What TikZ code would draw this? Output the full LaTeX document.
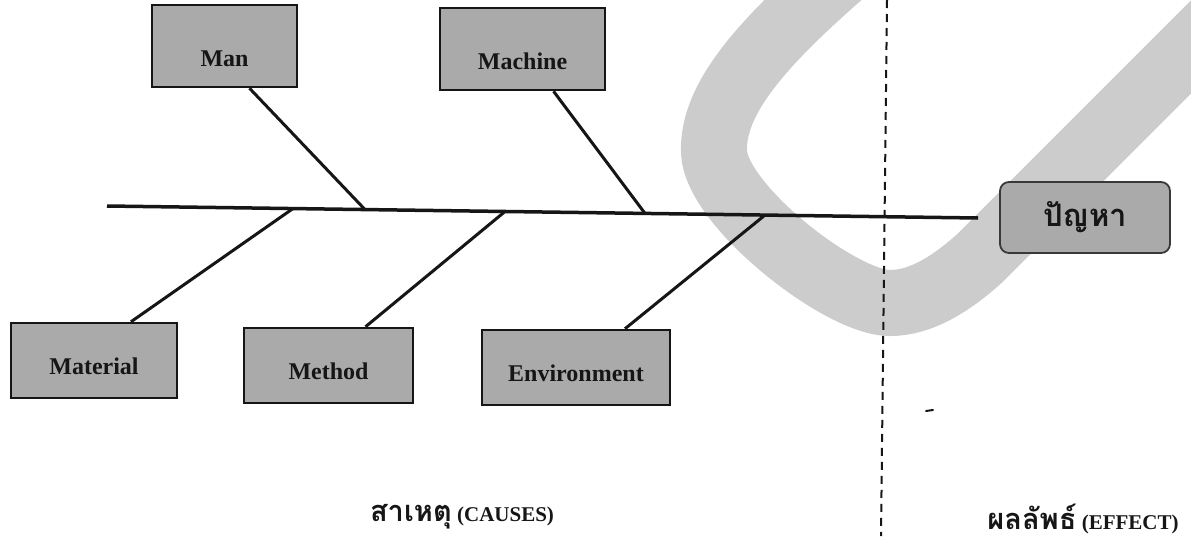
\documentclass[tikz,border=0pt]{standalone}
\usepackage{fontspec}
\setmainfont{Liberation Serif}
\newfontfamily\thaifont[Script=Thai]{Loma}
\usetikzlibrary{calc}
\definecolor{boxgray}{RGB}{170,170,170}
\definecolor{markgray}{RGB}{204,204,204}
\definecolor{ink}{RGB}{22,22,22}

\begin{document}
\begin{tikzpicture}[x=1pt,y=-1pt,
  cause/.style={draw=ink, line width=2.5pt, fill=boxgray, text=ink,
    font=\bfseries\fontsize{24}{24}\selectfont, inner sep=0pt, text depth=0pt},
  upper/.style={cause, text height=40pt},
  lower/.style={cause, text height=28pt},
  effectbox/.style={draw=ink!85, line width=1.8pt, fill=boxgray, text=ink,
    rounded corners=9pt, inner sep=0pt},
  bone/.style={ink, line width=3pt},
  spine/.style={ink, line width=3.5pt},
  divider/.style={ink, line width=2pt, dash pattern=on 8pt off 6pt},
  caption/.style={text=ink, font=\bfseries\fontsize{21}{21}\selectfont, inner sep=0pt},
  thaicap/.style={font=\thaifont\bfseries\fontsize{27}{27}\selectfont}]

\useasboundingbox (0,0) rectangle (1191,541);
\fill[white] (0,0) rectangle (1191,541);

% broad light-grey check stroke behind the diagram
\draw[markgray, line width=66pt]
  (840,-25) .. controls (760,45) and (712,100) .. (714,152)
  .. controls (716,205) and (840,303) .. (890,303)
  .. controls (920,303) and (950,285) .. (980,258) -- (1265,-27);

% cause boxes
\node[upper, minimum width=145pt, minimum height=82pt] (man)      at (224.5,46)  {Man};
\node[upper, minimum width=165pt, minimum height=82pt] (machine)  at (522.5,49)  {Machine};
\node[lower, minimum width=166pt, minimum height=75pt] (material) at (94,360.5)  {Material};
\node[lower, minimum width=169pt, minimum height=75pt] (method)   at (328.5,365.5) {Method};
\node[lower, minimum width=188pt, minimum height=75pt] (env)      at (576,367.5) {Environment};

% effect box
\node[effectbox, minimum width=170pt, minimum height=71pt] (effect) at (1085,217.5)
  {\thaifont\bfseries\fontsize{31}{31}\selectfont ปัญหา};

% spine of the fishbone
\coordinate (s0) at (107,206);
\coordinate (s1) at (978,218);
\draw[spine] (s0) -- (s1);

% bones
\draw[bone] ([xshift=25pt]man.south)      -- ($(s0)!0.2962!(s1)$);
\draw[bone] ([xshift=31pt]machine.south)  -- ($(s0)!0.6177!(s1)$);
\draw[bone] ($(s0)!0.2135!(s1)$) -- ([xshift=37pt]material.north);
\draw[bone] ($(s0)!0.4570!(s1)$) -- ([xshift=37pt]method.north);
\draw[bone] ($(s0)!0.7555!(s1)$) -- ([xshift=49pt]env.north);

% divider between causes and effect
\coordinate (d0) at (887,0);
\coordinate (d1) at (881,536);
\draw[divider] (d0) -- (d1);

% captions
\node[caption] (causes) at (462,517) {{\thaifont\fontsize{29}{29}\selectfont สาเหตุ} (CAUSES)};
\node[caption] (effcap) at (1083,519) {{\thaifont\fontsize{29}{29}\selectfont ผลลัพธ์} (EFFECT)};

% small ink mark
\draw[ink, line width=2pt, line cap=round] (926,411) -- (933,410);
\end{tikzpicture}
\end{document}
